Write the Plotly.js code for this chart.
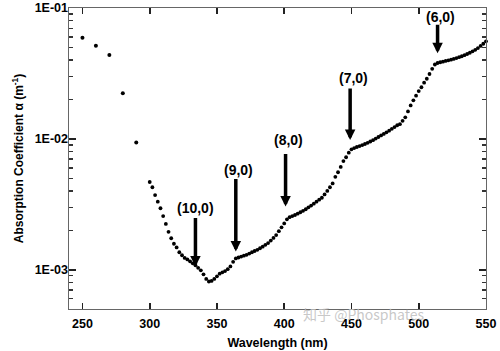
<!DOCTYPE html>
<html>
<head>
<meta charset="utf-8">
<script src="https://cdn.plot.ly/plotly-3.0.1.min.js"></script>
<style>html,body{margin:0;padding:0;background:#fff;}#chart{width:500px;height:351px;}</style>
</head>
<body>
<div id="chart"></div>
<script>
// Sparse points at short wavelengths
const sparseWavelength = [250, 260, 270, 280, 290];
const sparseAlpha = [0.0593, 0.0515, 0.0438, 0.0223, 0.00938];

// Dense measurement, 300-550 nm every 2 nm
const denseWavelength = [
  300,302,304,306,308,310,312,314,316,318,320,322,324,326,328,330,332,334,336,338,
  340,342,344,346,348,350,352,354,356,358,360,362,364,366,368,370,372,374,376,378,
  380,382,384,386,388,390,392,394,396,398,400,402,404,406,408,410,412,414,416,418,
  420,422,424,426,428,430,432,434,436,438,440,442,444,446,448,450,452,454,456,458,
  460,462,464,466,468,470,472,474,476,478,480,482,484,486,488,490,492,494,496,498,
  500,502,504,506,508,510,512,514,516,518,520,522,524,526,528,530,532,534,536,538,
  540,542,544,546,548,550
];
const denseAlpha = [
  4.68e-3,4.27e-3,3.72e-3,3.31e-3,2.95e-3,2.57e-3,2.24e-3,1.95e-3,1.74e-3,1.58e-3,
  1.48e-3,1.36e-3,1.29e-3,1.23e-3,1.20e-3,1.16e-3,1.12e-3,1.08e-3,1.035e-3,9.89e-4,
  9.23e-4,8.51e-4,8.13e-4,8.22e-4,8.51e-4,8.91e-4,9.33e-4,9.55e-4,9.77e-4,1.01e-3,
  1.06e-3,1.15e-3,1.22e-3,1.24e-3,1.26e-3,1.28e-3,1.30e-3,1.33e-3,1.36e-3,1.39e-3,
  1.42e-3,1.46e-3,1.50e-3,1.55e-3,1.60e-3,1.67e-3,1.75e-3,1.84e-3,1.97e-3,2.11e-3,
  2.26e-3,2.43e-3,2.52e-3,2.57e-3,2.62e-3,2.68e-3,2.75e-3,2.82e-3,2.90e-3,3.00e-3,
  3.09e-3,3.20e-3,3.31e-3,3.43e-3,3.55e-3,3.76e-3,4.00e-3,4.27e-3,4.57e-3,5.13e-3,
  5.56e-3,6.10e-3,6.76e-3,7.24e-3,7.85e-3,8.32e-3,8.51e-3,8.67e-3,8.81e-3,8.97e-3,
  9.14e-3,9.33e-3,9.55e-3,9.77e-3,1.005e-2,1.033e-2,1.062e-2,1.091e-2,1.122e-2,1.156e-2,
  1.194e-2,1.230e-2,1.271e-2,1.294e-2,1.374e-2,1.462e-2,1.622e-2,1.80e-2,1.97e-2,2.14e-2,
  2.32e-2,2.48e-2,2.69e-2,2.88e-2,3.13e-2,3.43e-2,3.70e-2,3.80e-2,3.85e-2,3.89e-2,
  3.94e-2,3.98e-2,4.03e-2,4.08e-2,4.14e-2,4.21e-2,4.28e-2,4.36e-2,4.45e-2,4.55e-2,
  4.67e-2,4.79e-2,4.94e-2,5.13e-2,5.33e-2,5.56e-2
];

// Vibronic overtone markers
const peakLabels = ['(10,0)', '(9,0)', '(8,0)', '(7,0)', '(6,0)'];
const peakWavelength = [334, 364, 401, 449, 514];
const peakArrowTipAlpha = [1.06e-3, 1.38e-3, 3.04e-3, 9.82e-3, 4.51e-2];
const peakLabelAlpha = [2.97e-3, 5.79e-3, 9.82e-3, 2.94e-2, 8.59e-2];

// Axis tick labels
const yTickVals = [1e-3, 1e-2, 1e-1];
const yTickText = ['1E-03', '1E-02', '1E-01'];

const FONT = 'Liberation Sans, Arial, Helvetica, sans-serif';
const arrowLen = [-50, -74, -54, -53, -30];
const labelDx = [0, 3, 3, 3, 3];

const annotations = [];
peakLabels.forEach((t, i) => {
  annotations.push({
    x: peakWavelength[i], y: Math.log10(peakArrowTipAlpha[i]), xref: 'x', yref: 'y',
    text: '', showarrow: true, arrowhead: 2, arrowsize: 0.6, arrowwidth: 3.5,
    arrowcolor: '#000', ax: 0, ay: arrowLen[i], standoff: 0
  });
  annotations.push({
    x: peakWavelength[i], y: Math.log10(peakLabelAlpha[i]), xref: 'x', yref: 'y',
    xshift: labelDx[i], text: t, showarrow: false,
    font: {family: FONT, size: 14, color: '#000', weight: 'bold'}
  });
});
annotations.push({
  xref: 'paper', yref: 'paper', x: 0.855, y: -0.058, text: '知乎 @Phosphates',
  showarrow: false, font: {family: 'Noto Sans CJK SC, Noto Sans, sans-serif', size: 14, color: 'rgba(190,190,190,0.85)'}
});

const traces = [
  {x: sparseWavelength, y: sparseAlpha, type: 'scatter', mode: 'markers', yaxis: 'y2',
   marker: {size: 4, color: '#000'}, cliponaxis: false, hoverinfo: 'x+y'},
  {x: denseWavelength, y: denseAlpha, type: 'scatter', mode: 'markers',
   marker: {size: 3.8, color: '#000'}, cliponaxis: false, hoverinfo: 'x+y'}
];

const tickFont = {family: FONT, size: 12.5, weight: 'bold', color: '#000'};

const layout = {
  width: 500, height: 351,
  margin: {l: 69, r: 14, t: 8, b: 42},
  showlegend: false,
  font: {family: FONT, color: '#000'},
  xaxis: {
    range: [240, 550], dtick: 50,
    ticks: 'inside', ticklen: 6, tickwidth: 1.6, tickcolor: '#222',
    ticklabelstandoff: 3,
    showline: true, linecolor: '#666', mirror: 'ticks',
    showgrid: false, zeroline: false,
    tickfont: tickFont,
    title: {text: 'Wavelength (nm)', standoff: 8,
            font: {family: FONT, size: 12.5, weight: 'bold', color: '#000'}}
  },
  yaxis: {
    type: 'log', range: [-3.3, -1], dtick: 1, showticklabels: false,
    ticks: 'inside', ticklen: 7, tickwidth: 1.6, tickcolor: '#222',
    minor: {dtick: 'D1', ticks: 'inside', ticklen: 4, tickwidth: 1.4, tickcolor: '#333'},
    showline: true, linecolor: '#666', mirror: 'ticks',
    showgrid: false, zeroline: false
  },
  yaxis2: {
    type: 'log', range: [-3.3, -1], overlaying: 'y', side: 'left',
    tickmode: 'array', tickvals: yTickVals, ticktext: yTickText,
    ticks: '', showline: false, showgrid: false, zeroline: false,
    tickfont: tickFont,
    title: {text: 'Absorption Coefficient α (m<sup>-1</sup>)', standoff: 8,
            font: {family: FONT, size: 12, weight: 'bold', color: '#000'}}
  },
  annotations: annotations
};

Plotly.newPlot('chart', traces, layout, {displayModeBar: false, staticPlot: true});
</script>
</body>
</html>
